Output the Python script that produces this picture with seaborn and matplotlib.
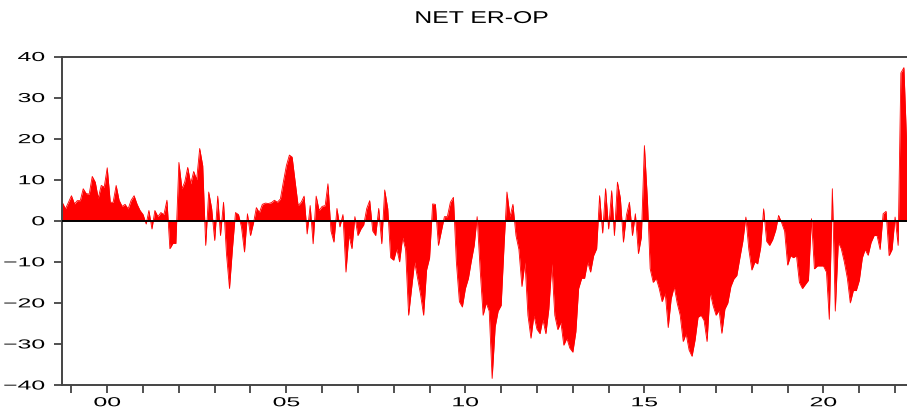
import numpy as np
import pandas as pd
import matplotlib.pyplot as plt
import matplotlib.dates as mdates
import seaborn as sns
from matplotlib.patheffects import AbstractPathEffect
from matplotlib.transforms import Affine2D

# Valores mensuales (oct 1998 - may 2022)
v1998 = [4.4, 2.9, 4.5]
v1999 = [6.1, 4.1, 4.9, 4.9, 7.8, 6.6, 6.5, 10.8, 9.4, 5.5, 8.6, 8.2]
v2000 = [12.9, 4.5, 4.5, 8.6, 5.0, 3.5, 4.0, 2.9, 5.0, 6.1, 4.0, 2.5]
v2001 = [1.5, -0.8, 2.5, -2.0, 2.5, 1.0, 2.0, 1.5, 5.0, -6.8, -5.5, -5.5]
v2002 = [14.2, 7.8, 9.4, 13.0, 9.0, 12.0, 10.0, 17.6, 13.4, -6.0, 7.0, 3.0]
v2003 = [-4.8, 6.0, -3.6, 4.5, -8.0, -16.5, -6.8, 2.0, 1.5, -1.5, -7.6, 1.7]
v2004 = [-3.6, -0.5, 3.2, 2.0, 4.0, 4.3, 4.2, 4.4, 5.0, 4.5, 5.3, 9.4]
v2005 = [13.4, 16.0, 15.5, 9.4, 3.7, 4.5, 6.0, -3.2, 3.7, -5.6, 6.0, 2.5]
v2006 = [3.5, 3.7, 9.0, -2.5, -5.2, 3.0, -1.5, 1.5, -12.5, -3.5, -6.8, 1.0]
v2007 = [-3.6, -2.0, -1.0, 3.0, 4.9, -2.5, -3.6, 3.0, -5.6, 7.5, 3.0, -9.0]
v2008 = [-9.6, -6.8, -10.0, -4.0, -7.0, -23.0, -16.5, -10.0, -14.0, -18.0, -23.0, -12.0]
v2009 = [-9.0, 4.1, 4.0, -6.0, -2.5, 1.0, 1.0, 4.5, 5.7, -10.0, -19.7, -21.0]
v2010 = [-16.5, -14.0, -10.0, -6.0, 1.0, -12.0, -23.0, -20.0, -22.0, -38.4, -25.8, -22.0]
v2011 = [-20.6, -5.3, 7.0, 1.0, 4.0, -3.6, -7.0, -16.0, -10.0, -23.0, -28.6, -23.0]
v2012 = [-26.4, -27.5, -24.0, -27.5, -21.5, -10.4, -23.0, -26.5, -24.7, -30.3, -28.6, -31.0]
v2013 = [-32.0, -27.0, -16.5, -14.0, -14.0, -10.0, -12.5, -8.5, -6.8, 6.1, -3.0, 7.8]
v2014 = [-2.0, 7.3, -3.6, 9.4, 5.5, -5.2, 1.3, 4.5, -3.6, 1.7, -8.0, -4.0]
v2015 = [18.3, 5.0, -11.7, -15.0, -14.0, -16.5, -19.7, -17.5, -26.0, -19.0, -16.0, -20.0]
v2016 = [-23.0, -29.4, -27.5, -31.5, -33.0, -29.0, -23.5, -23.0, -24.3, -29.4, -17.3, -20.6]
v2017 = [-23.0, -21.8, -27.4, -21.5, -20.0, -16.0, -14.2, -13.3, -9.0, -5.0, 0.9, -7.0]
v2018 = [-12.0, -10.0, -10.5, -6.5, 2.9, -5.0, -6.0, -4.6, -2.3, 1.3, -0.5, -2.5]
v2019 = [-10.8, -8.5, -9.0, -8.5, -15.0, -16.5, -15.5, -14.5, 0.5, -11.7, -11.0, -11.0]
v2020 = [-11.0, -12.5, -24.0, 7.8, -22.0, -5.2, -6.8, -10.0, -14.0, -20.0, -17.0, -17.0]
v2021 = [-14.5, -9.0, -7.0, -8.4, -5.3, -3.6, -3.6, -7.0, 1.7, 2.3, -8.5, -7.0]
v2022 = [0.9, -6.0, 36.0, 37.3, 17.5]

valores = (v1998 + v1999 + v2000 + v2001 + v2002 + v2003 + v2004 + v2005
           + v2006 + v2007 + v2008 + v2009 + v2010 + v2011 + v2012 + v2013
           + v2014 + v2015 + v2016 + v2017 + v2018 + v2019 + v2020 + v2021
           + v2022)

df = pd.DataFrame({
    "fecha": pd.date_range("1998-10-01", periods=len(valores), freq="MS"),
    "valor": valores
})


# Texto ensanchado horizontalmente (la imagen original esta estirada)
class Estirar(AbstractPathEffect):
    def __init__(self, sx, ancla=0.5):
        super().__init__()
        self.sx = sx
        self.ancla = ancla

    def draw_path(self, renderer, gc, tpath, affine, rgbFace=None):
        caja = tpath.get_extents(affine)
        xa = caja.x0 + self.ancla * caja.width
        t = affine + Affine2D().translate(-xa, 0).scale(self.sx, 1).translate(xa, 0)
        renderer.draw_path(gc, tpath, t, rgbFace)


sns.set_theme(style="ticks")
plt.rcParams["font.family"] = ["Liberation Sans", "DejaVu Sans"]

fig = plt.figure(figsize=(9.07, 4.14), dpi=100)
ax = fig.add_axes([0.0684, 0.0676, 0.935, 0.7935])

# Area roja
ax.fill_between(df["fecha"], 0, df["valor"], color="#ff0000", lw=0)
sns.lineplot(x="fecha", y="valor", data=df, color="#ff0000", lw=0.6, ax=ax)
ax.axhline(0, color="black", lw=1.4, zorder=5)

ax.set_ylim(-40, 40)
ax.set_yticks(np.arange(-40, 41, 10))
ax.set_xlim(pd.Timestamp("1998-09-27"), pd.Timestamp("2022-06-03"))

ax.xaxis.set_major_locator(mdates.YearLocator(5))
ax.xaxis.set_major_formatter(mdates.DateFormatter("%y"))
ax.xaxis.set_minor_locator(mdates.YearLocator(1))

ax.tick_params(axis="both", which="both", direction="out", length=5.5,
               width=1.2, colors="#333333", labelcolor="black", labelsize=9.4)
ax.tick_params(axis="x", pad=3.3)
ax.tick_params(axis="y", pad=7)
ax.set_xlabel("")
ax.set_ylabel("")

for lado in ["left", "bottom", "top"]:
    ax.spines[lado].set_color("#444444")
    ax.spines[lado].set_linewidth(1.4)
ax.spines["right"].set_visible(False)

for lbl in ax.get_xticklabels():
    lbl.set_path_effects([Estirar(1.9, 0.5)])
for lbl in ax.get_yticklabels():
    lbl.set_path_effects([Estirar(1.9, 1.0)])

fig.text(0.531, 0.953, "NET ER-OP", ha="center", va="center", fontsize=12.3,
         color="black", path_effects=[Estirar(1.45, 0.5)])

plt.savefig("out.png", dpi=100)
